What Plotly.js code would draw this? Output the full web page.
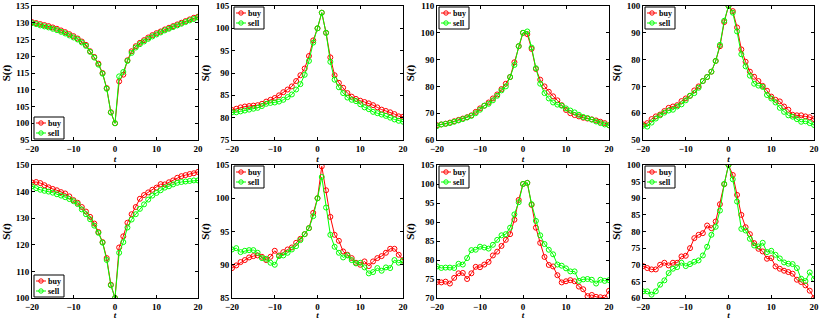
<!DOCTYPE html>
<html>
<head>
<meta charset="utf-8">
<script src="https://cdn.plot.ly/plotly-3.0.1.min.js"></script>
<style>
  html, body { margin: 0; padding: 0; background: #fff; }
  #chart { width: 822px; height: 320px; }
</style>
</head>
<body>
<div id="chart"></div>
<script>
// lag t
const t = []
for (let i = -20; i <= 20; i++) t.push(i)

// panel data
const buy1 = [130.2,129.9,129.6,129.3,129.0,128.6,128.2,127.7,127.2,126.6,126.0,125.3,124.4,123.4,121.5,119.8,117.8,115.0,110.5,103.3,100,
  112.5,114.5,118.8,121.5,123.0,124.0,124.8,125.6,126.3,126.9,127.4,128.0,128.5,129.0,129.5,130.0,130.5,131.0,131.5,131.8]
const sell1 = [129.9,129.6,129.2,128.9,128.6,128.2,127.8,127.3,126.8,126.2,125.6,125.0,124.1,123.1,121.3,119.6,117.5,114.8,110.3,103.2,100,
  114.0,115.3,118.6,121.0,122.6,123.6,124.4,125.2,125.9,126.5,127.1,127.7,128.2,128.7,129.2,129.7,130.2,130.7,131.1,131.6]

const buy2 = [81.7,82.0,82.3,82.5,82.6,82.7,82.8,83.1,83.6,84.0,84.4,85.0,85.7,86.3,87.0,88.2,89.5,91.0,93.8,97.3,100,
  103.5,99.0,93.5,89.5,87.8,86.7,85.5,84.7,84.2,83.8,83.5,83.2,82.8,82.3,81.8,81.5,81.2,80.8,80.3,80.2]
const sell2 = [81.2,81.2,81.4,81.6,81.8,82.0,82.2,82.6,83.1,83.3,83.4,83.6,84.0,84.6,85.2,86.3,87.5,89.6,92.7,96.8,100,
  103.5,99.0,92.5,88.5,86.8,85.5,84.5,84.0,83.7,83.0,82.3,81.9,81.3,81.0,80.7,80.4,80.0,79.6,79.3,79.1]

const buy3 = [65.5,65.8,66.1,66.5,67.0,67.5,68.0,68.5,69.2,70.5,71.8,72.8,74.0,75.5,77.0,79.0,81.0,83.5,89.0,95.0,100,
  99.5,94.0,86.5,82.5,80.0,78.0,76.3,74.8,73.0,71.2,70.0,69.3,68.8,68.3,68.0,67.7,67.3,66.8,66.3,65.5]
const sell3 = [65.2,65.8,66.0,66.3,66.8,67.3,67.8,68.4,69.0,70.0,71.3,72.8,73.5,74.8,76.5,78.5,80.0,83.5,88.0,95.0,100,
  100.5,94.5,86.8,81.0,77.5,75.5,74.0,73.2,72.8,71.8,71.0,70.3,69.4,68.6,68.2,67.6,66.9,66.3,65.8,65.5]

const buy4 = [55.8,56.3,57.8,58.8,59.5,60.8,62.0,62.5,63.0,64.5,65.5,66.5,68.5,70.0,72.0,73.5,75.5,79.5,85.0,94.0,100,
  98.1,92.0,83.8,79.2,75.5,73.6,72.0,70.2,68.4,66.2,65.0,64.4,62.5,61.3,59.4,59.2,59.2,58.8,58.5,57.8]
const sell4 = [55.3,55.0,56.5,58.0,59.2,60.2,61.0,61.3,62.5,63.3,64.8,66.5,67.5,69.5,72.0,73.5,75.5,79.5,85.5,94.5,100,
  97.5,90.5,82.0,77.5,74.0,71.0,70.3,69.8,66.8,65.5,64.0,62.0,60.5,59.2,58.7,57.8,56.8,57.0,56.3,55.6]

const buy5 = [143.4,143.6,143.2,142.4,141.6,141.0,140.5,139.8,139.3,138.2,136.8,135.8,134.2,132.5,130.5,128.0,124.8,121.0,115.0,105.0,100,
  119.0,123.2,128.3,131.5,134.2,137.3,138.7,139.7,140.7,141.5,142.8,142.7,143.5,144.2,145.2,145.8,146.2,146.6,146.9,147.4]
const sell5 = [142.0,141.3,140.7,140.3,140.0,139.6,139.0,138.5,137.9,137.2,136.4,135.3,133.3,131.5,129.6,127.2,124.5,120.8,114.3,104.8,100,
  117.0,121.0,126.5,129.5,131.5,133.5,135.2,137.0,138.5,139.5,140.5,141.5,142.0,142.7,143.3,143.6,143.8,144.0,144.2,144.2]

const buy6 = [89.5,89.9,90.4,90.7,91.1,91.3,91.4,91.2,90.7,91.2,92.1,91.4,91.9,92.3,92.6,93.3,93.9,94.6,95.5,97.8,100,
  104.8,101.2,97.2,94.5,93.6,92.0,91.5,91.0,90.3,90.0,90.5,89.8,90.5,91.0,91.3,91.8,92.4,92.4,91.5,90.7]
const sell6 = [92.3,92.5,91.9,92.1,92.2,92.2,91.8,91.0,90.9,90.3,90.0,91.3,91.4,91.8,92.3,92.8,93.7,94.6,95.5,97.3,100,
  103.2,98.6,94.5,92.7,91.8,91.1,91.4,90.7,90.2,90.3,89.6,88.7,88.9,89.5,89.1,89.6,89.5,90.7,90.3,90.6]

const buy7 = [74.2,74.1,74.3,73.8,75.3,76.5,76.6,75.0,76.5,78.2,78.1,78.8,79.5,81.2,82.2,83.7,85.3,86.8,90.6,95.8,100,
  100.3,94.5,88.5,84.5,80.8,78.7,78.3,76.0,74.1,74.4,74.7,74.4,73.0,72.3,70.5,70.8,70.3,70.2,70.1,71.9]
const sell7 = [78.3,77.9,78.0,78.0,77.9,79.0,78.8,80.5,82.6,82.7,83.5,83.3,83.0,84.0,85.3,86.5,86.8,88.5,92.0,95.2,100,
  100.3,94.7,90.3,86.5,84.2,82.7,81.5,78.8,78.5,77.8,77.0,77.0,74.5,74.9,75.0,74.8,73.8,74.8,74.5,74.7]

const buy8 = [69.6,69.0,68.6,68.6,70.0,70.6,69.8,70.6,70.6,72.5,72.7,75.0,78.0,79.0,79.5,81.8,81.0,83.0,88.2,94.2,100,
  97.0,91.0,85.0,81.3,79.2,76.5,74.8,74.0,71.8,72.0,69.5,68.8,68.2,67.8,67.3,65.5,64.8,63.8,62.2,60.0]
const sell8 = [62.0,62.0,61.0,62.0,64.0,65.3,67.5,68.8,69.3,70.6,69.6,70.2,70.9,71.3,72.8,75.4,79.0,81.4,86.3,94.3,100,
  95.7,89.0,80.8,80.3,77.8,75.8,75.5,76.6,73.8,74.2,73.0,71.9,70.7,70.3,70.2,69.0,65.8,65.1,67.7,65.7]

const buySeries = [buy1, buy2, buy3, buy4, buy5, buy6, buy7, buy8]
const sellSeries = [sell1, sell2, sell3, sell4, sell5, sell6, sell7, sell8]
const seriesNames = ['buy', 'sell']
const seriesColors = ['#ff0000', '#00ff00']

// y axis ranges and tick steps per panel
const yRanges = [[95,135],[75,105],[60,110],[50,100],[100,150],[85,105],[70,105],[60,100]]
const yDtick = [5, 5, 10, 10, 10, 5, 5, 5]
const legendBottom = [true, false, false, false, true, false, false, false]

const W = 822, H = 320
const colsPx = [[32,198],[232,403],[437,609],[643,814]]
const rowsPx = [[6,140],[165,298]]
const serif = 'Liberation Serif, Times New Roman, serif'

const font = { family: serif, size: 9, color: '#000', weight: 'bold' }

const traces = []
const shapes = []
const annotations = []
const layout = {
    width: W, height: H,
    margin: { l: 0, r: 0, t: 0, b: 0 },
    paper_bgcolor: '#fff', plot_bgcolor: '#fff',
    font: font,
    showlegend: false,
    shapes: shapes,
    annotations: annotations
}

// pixel -> paper helpers (margins are zero)
const px = v => v / W
const py = v => 1 - v / H

for (let p = 0; p < 8; p++) {
    const n = p + 1
    const sfx = n === 1 ? '' : String(n)
    const col = colsPx[p % 4], row = rowsPx[Math.floor(p / 4)]

    const data = [buySeries[p], sellSeries[p]]
    data.forEach((ys, k) => {
        traces.push({
            x: t, y: ys, name: seriesNames[k], type: 'scatter', mode: 'lines+markers',
            xaxis: 'x' + sfx, yaxis: 'y' + sfx,
            line: { color: seriesColors[k], width: 1 },
            marker: { symbol: 'circle-open', size: 5, color: seriesColors[k], line: { width: 1 } }
        })
    })

    const common = {
        showline: true, mirror: 'ticks', linecolor: '#000', linewidth: 1,
        ticks: 'inside', ticklen: 3, tickcolor: '#000',
        showgrid: false, zeroline: false,
        tickfont: font
    }
    layout['xaxis' + sfx] = Object.assign({}, common, {
        domain: [px(col[0]), px(col[1])],
        anchor: 'y' + sfx,
        range: [-20, 20], dtick: 10, tick0: 0,
        title: { text: '<i>t</i>', font: { family: serif, size: 9, color: '#000' }, standoff: 2 }
    })
    layout['yaxis' + sfx] = Object.assign({}, common, {
        domain: [py(row[1]), py(row[0])],
        anchor: 'x' + sfx,
        range: yRanges[p], dtick: yDtick[p], tick0: 0,
        title: { text: 'S(<i>t</i>)', font: { family: serif, size: 11, color: '#000' }, standoff: 3 }
    })

    // small legend box like the original
    const bx0 = col[0] + 2, bx1 = bx0 + 30
    const by0 = legendBottom[p] ? row[1] - 23 : row[0] + 1
    const by1 = by0 + 22
    shapes.push({ type: 'rect', xref: 'paper', yref: 'paper', layer: 'above',
        x0: px(bx0), x1: px(bx1), y0: py(by1), y1: py(by0),
        line: { color: '#000', width: 1 }, fillcolor: '#fff' })
    seriesNames.forEach((name, k) => {
        const yy = by0 + 6 + k * 10
        shapes.push({ type: 'line', xref: 'paper', yref: 'paper', layer: 'above',
            x0: px(bx0 + 2), x1: px(bx0 + 12), y0: py(yy), y1: py(yy),
            line: { color: seriesColors[k], width: 1 } })
        shapes.push({ type: 'circle', xref: 'paper', yref: 'paper', layer: 'above',
            xsizemode: 'pixel', ysizemode: 'pixel', xanchor: px(bx0 + 7), yanchor: py(yy),
            x0: -2.2, x1: 2.2, y0: -2.2, y1: 2.2,
            line: { color: seriesColors[k], width: 1 }, fillcolor: 'rgba(0,0,0,0)' })
        annotations.push({ xref: 'paper', yref: 'paper', x: px(bx0 + 13), y: py(yy),
            xanchor: 'left', yanchor: 'middle', showarrow: false, text: name,
            borderpad: 0,
            font: { family: serif, size: 8, color: '#000', weight: 'bold' } })
    })
}

Plotly.newPlot('chart', traces, layout, { staticPlot: true, displayModeBar: false })
</script>
</body>
</html>
